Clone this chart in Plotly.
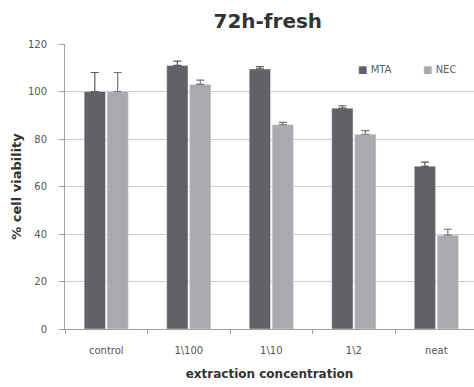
import plotly.graph_objects as go

# Cell viability after 72 h exposure to freshly mixed material extracts
categories = ["control", "1\\100", "1\\10", "1\\2", "neat"]
series_names = ["MTA", "NEC"]
mta_values = [100, 111, 109.5, 93, 68.5]
mta_errors = [8, 1.8, 1.0, 1.0, 1.8]
nec_values = [100, 103, 86, 82, 39.5]
nec_errors = [8, 1.8, 1.0, 1.5, 2.5]
y_ticks = [0, 20, 40, 60, 80, 100, 120]

FONT = "'DejaVu Sans', sans-serif"
MTA_COLOR = "#626266"
NEC_COLOR = "#aaaaae"
no_lower = [0] * len(categories)

fig = go.Figure()
fig.add_trace(go.Bar(
    name=series_names[0], x=categories, y=mta_values, marker_color=MTA_COLOR,
    error_y=dict(type="data", array=mta_errors, arrayminus=no_lower,
                 symmetric=False, visible=True,
                 color="#58585c", thickness=1.2, width=4),
))
fig.add_trace(go.Bar(
    name=series_names[1], x=categories, y=nec_values, marker_color=NEC_COLOR,
    error_y=dict(type="data", array=nec_errors, arrayminus=no_lower,
                 symmetric=False, visible=True,
                 color="#75757a", thickness=1.2, width=4),
))

# Compact key: small square swatch followed by the series name
for name, color, xpos in [(series_names[0], MTA_COLOR, 0.712),
                          (series_names[1], NEC_COLOR, 0.870)]:
    fig.add_annotation(
        xref="paper", yref="paper", x=xpos, y=0.912,
        xanchor="left", yanchor="middle", showarrow=False,
        text=f"<span style='color:{color}'>■</span> {name}",
        font=dict(family=FONT, size=10, color="#606060"),
    )

fig.update_layout(
    width=474, height=387,
    margin=dict(l=65, r=0, t=44, b=58),
    paper_bgcolor="white", plot_bgcolor="white",
    barmode="group", bargap=0.445, bargroupgap=0.07,
    showlegend=False,
    font=dict(family=FONT, color="#555555", size=10),
    title=dict(text="<b>72h-fresh</b>", x=0.565, xanchor="center",
               y=0.945, yanchor="middle",
               font=dict(family=FONT, size=20, color="#333333")),
    xaxis=dict(
        range=[-0.5, 4.456], showline=True, linecolor="#a0a0a0",
        linewidth=1, ticks="outside", tickson="boundaries", ticklen=4,
        tickcolor="#a0a0a0", showgrid=False, ticklabelstandoff=12,
        tickfont=dict(family=FONT, size=10, color="#555555"),
        title=dict(text="<b>extraction concentration</b>", standoff=14,
                   font=dict(family=FONT, size=12, color="#333333")),
    ),
    yaxis=dict(
        range=[0, 120], tickvals=y_ticks, showline=True,
        linecolor="#a0a0a0", linewidth=1, ticks="outside", ticklen=5,
        tickcolor="#a0a0a0", showgrid=True, gridcolor="#cbcbcb",
        zeroline=False, ticklabelstandoff=10,
        tickfont=dict(family=FONT, size=10, color="#555555"),
        title=dict(text="<b>% cell viability</b>", standoff=3,
                   font=dict(family=FONT, size=13, color="#333333")),
    ),
)

fig.write_html("out.html")
